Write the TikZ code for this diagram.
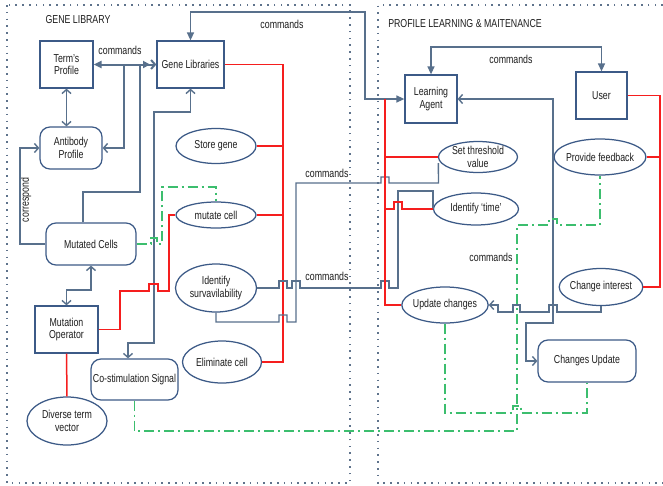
\documentclass[tikz,border=0pt]{standalone}
\usepackage{fontspec}
\setmainfont{Liberation Sans}[FakeStretch=0.765]
\usetikzlibrary{arrows.meta,shapes.geometric,calc}
\definecolor{nodeb}{RGB}{60,90,135}
\definecolor{slate}{RGB}{88,112,140}
\definecolor{redc}{RGB}{245,30,30}
\definecolor{grnc}{RGB}{60,190,110}
\definecolor{dotc}{RGB}{95,115,140}
\definecolor{txt}{RGB}{30,30,30}
\newcommand\nodefont{\fontsize{11.5}{12.3}\selectfont}
\tikzset{
 ftri/.tip={Triangle[length=8pt,width=7pt]},
 box/.style={draw=nodeb,line width=1.25pt,fill=white,inner sep=1pt,align=center,text=txt,font=\nodefont},
 rbox/.style={box,rounded corners=10pt},
 ell/.style={box,ellipse,inner sep=-1.5pt},
 conn/.style={draw=slate,line width=1.4pt},
 redl/.style={draw=redc,line width=1.5pt},
 grnl/.style={draw=grnc,line width=1.4pt,dash pattern=on 10pt off 4pt on 2pt off 4pt},
 dotl/.style={draw=dotc,line width=1.4pt,dash pattern=on 1.6pt off 5.2pt},
 lbl/.style={font=\nodefont,text=txt,inner sep=1pt},
}
\begin{document}
\begin{tikzpicture}[x=1pt,y=-1pt,>={Straight Barb[length=4pt,width=9pt]}]
\useasboundingbox (0,0) rectangle (663,485);
\fill[white] (0,0) rectangle (663,485);
% frames
\draw[dotl] (7,5) rectangle (350,483);
\draw[dotl] (663,5) -- (378,5) -- (378,483) -- (663,483);
\node[lbl] (t1) at (78,20) {GENE LIBRARY};
\node[lbl] (t2) at (465,24) {PROFILE LEARNING \& MAITENANCE};
% nodes left
\node[box,minimum width=53pt,minimum height=47pt] (term) at (66.5,64.5) {Term’s\\Profile};
\node[box,minimum width=67pt,minimum height=47pt] (genelib) at (190.5,64.5) {Gene Libraries};
\node[rbox,minimum width=62pt,minimum height=42pt] (antibody) at (71,148) {Antibody\\Profile};
\node[ell,minimum width=80pt,minimum height=35pt] (store) at (216,146) {Store gene};
\node[rbox,minimum width=90pt,minimum height=42pt] (mutated) at (91,244) {Mutated Cells};
\node[ell,minimum width=80pt,minimum height=26pt] (mutate) at (216,215) {mutate cell};
\node[ell,minimum width=81pt,minimum height=48pt] (identsurv) at (216,288) {Identify\\survavilability};
\node[box,minimum width=63pt,minimum height=47pt] (mutop) at (66.5,329.5) {Mutation\\Operator};
\node[rbox,minimum width=87pt,minimum height=41pt] (costim) at (134.5,379.5) {Co-stimulation Signal};
\node[ell,minimum width=79pt,minimum height=42pt] (elim) at (222,362) {Eliminate cell};
\node[ell,minimum width=80pt,minimum height=48pt] (diverse) at (67,421) {Diverse term\\vector};
% nodes right
\node[box,minimum width=52pt,minimum height=48pt] (agent) at (431,99) {Learning\\Agent};
\node[box,minimum width=51pt,minimum height=47pt] (user) at (601.5,95.5) {User};
\node[ell,minimum width=79pt,minimum height=31pt] (thresh) at (478,157) {Set threshold\\value};
\node[ell,minimum width=79pt,minimum height=36pt] (feedback) at (600,157) {Provide feedback};
\node[ell,minimum width=85pt,minimum height=32pt] (time) at (476,209) {Identify ‘time’};
\node[ell,minimum width=80pt,minimum height=37pt] (interest) at (601,287) {Change interest};
\node[ell,minimum width=80pt,minimum height=36pt] (update) at (445,305) {Update changes};
\node[rbox,minimum width=98pt,minimum height=42pt] (cupdate) at (587,361) {Changes Update};
% labels
\node[lbl] (c1) at (120,50) {commands};
\node[lbl] (c2) at (282,24) {commands};
\node[lbl] (c3) at (511,59) {commands};
\node[lbl] (c4) at (327,173) {commands};
\node[lbl] (c5) at (327,276) {commands};
\node[lbl] (c6) at (491,257) {commands};
\node[lbl,rotate=90] (corr) at (26,200) {correspond};
% blue connectors left
\draw[conn,line width=2pt,{ftri}-{Triangle[length=7pt,width=7pt] Straight Barb[length=4pt,width=9pt]}] (term.east) -- (genelib.west);
\draw[conn,<->] (term.south) -- (term.south |- antibody.north);
\coordinate (j1) at (124,64.5);
\coordinate (j2) at (140,64.5);
\draw[conn,->] (j1) -- (124,148) -- (antibody.east);
\draw[conn] ($(mutated.north)+(-8,0)$) -- (83,192) -- (140,192) -- (j2);
\draw[conn,->] (mutated.west) -- (20,244) -- (20,148) -- (antibody.west);
\draw[conn,<->] (mutated.south) -- (91,290) -- (66.5,290) -- (mutop.north);
\draw[conn,<->] (genelib.south) -- (190.5,112) -- (154,112) -- (154,343) -- (128,343) -- ($(costim.north)+(-6.5,0)$);
\draw[conn,{ftri}-{ftri}] (genelib.north) -- (190.5,12) -- (365,12) -- (365,99) -- (agent.west);
% red left
\draw[redl] (genelib.east) -- (283,64.5) -- (283,362) -- (elim.east);
\draw[redl] (store.east) -- (283,146);
\draw[redl] (mutate.east) -- (283,215);
\draw[redl] (mutop.east) -- (120,329.5) -- (120,291) -- (149,291) -- (149,284) -- (158,284) -- (158,291) -- (169,291) -- (169,215) -- (mutate.west);
\draw[redl] (mutop.south) -- (diverse.north);
% blue middle
\draw[conn] (identsurv.east) -- (279,288) -- (279,281) -- (287,281) -- (287,288) -- (292,288) -- (292,281) -- (300,281) -- (300,288) -- (381,288) -- (381,281) -- (389,281) -- (389,288) -- (398,288) -- (398,191) -- ($(time.west)+(0,-18)$) -- (time.west);
\draw[conn] (identsurv.south) -- (216,322) -- (279,322) -- (279,315) -- (287,315) -- (287,322) -- (296,322) -- (296,183) -- (381,183) -- (381,177) -- (389,177) -- (389,183) -- (438.5,183) -- ($(thresh.west)+(0.5,6)$);
% red right
\draw[redl] (385,99) -- (385,305) -- (update.west);
\draw[redl] (385,157) -- (thresh.west);
\draw[redl] (385,209) -- (394,209) -- (394,202) -- (402,202) -- (402,209) -- (time.west);
\draw[redl] (user.east) -- (660,95.5) -- (660,287) -- (interest.east);
\draw[redl] (feedback.east) -- (660,157);
% blue right
\draw[conn,{ftri}-{ftri}] (agent.north) -- (431,47) -- (601.5,47) -- (user.north);
\draw[conn,<->] (agent.east) -- (553,99) -- (553,323) -- (526,323) -- (526,361) -- (cupdate.west);
\draw[conn,->] (interest.south) -- (601,312) -- (557,312) -- (557,305) -- (549,305) -- (549,312) -- (520,312) -- (520,305) -- (513,305) -- (513,312) -- (498,312) -- (498,305) -- (update.east);
% green
\draw[grnl] (mutated.east) -- (151,244) -- (151,238) -- (157,238) -- (157,244) -- (162,244) -- (162,187) -- (216,187) -- (mutate.north);
\draw[grnl] (costim.south) -- (134.5,431) -- (517,431) -- (517,225) -- (549,225) -- (549,219) -- (557,219) -- (557,225) -- (600,225) -- (feedback.south);
\draw[grnl] (update.south) -- (445,413) -- (513,413) -- (513,406) -- (521,406) -- (521,413) -- (587,413) -- (cupdate.south);
\end{tikzpicture}
\end{document}
